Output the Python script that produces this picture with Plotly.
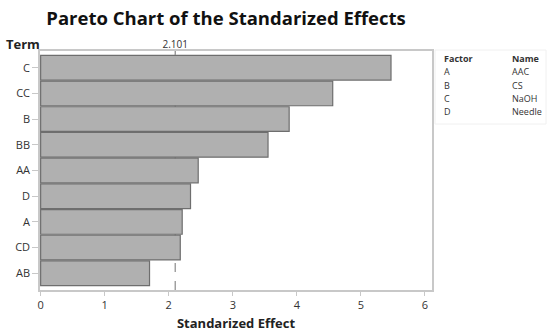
import plotly.graph_objects as go

terms = ["C", "CC", "B", "BB", "AA", "D", "A", "CD", "AB"]
effects = [5.47, 4.56, 3.88, 3.55, 2.46, 2.34, 2.21, 2.18, 1.70]
ref_value = 2.101
x_ticks = [0, 1, 2, 3, 4, 5, 6]
factors = ["A", "B", "C", "D"]
names = ["AAC", "CS", "NaOH", "Needle"]

FONT = "Open Sans"
GRID = "#c8c8c8"
XRANGE = [-0.01, 6.11]

# plot area in pixels: x 40..432, y 51..290
PW, PH = 392, 239
def px(x):
    return (x - 40) / PW
def py(y):
    return (290 - y) / PH

fig = go.Figure()
fig.add_trace(go.Bar(
    x=effects, y=terms, orientation="h",
    marker=dict(color="#b0b0b0", line=dict(color="#6e6e6e", width=1.2)),
    showlegend=False, hoverinfo="x+y",
))
fig.add_trace(go.Scatter(x=[ref_value], y=[terms[0]], xaxis="x2", mode="markers",
                         marker=dict(opacity=0), showlegend=False, hoverinfo="skip"))

fig.add_shape(type="line", x0=ref_value, x1=ref_value, y0=0, y1=1, yref="paper",
              line=dict(color="#8a8a8a", width=1.2, dash="dash"), layer="below")
fig.add_shape(type="rect", xref="paper", yref="paper", x0=px(435), x1=px(546), y0=py(124), y1=py(50),
              line=dict(color="#f0f0f0", width=1), fillcolor="rgba(0,0,0,0)")

fig.update_layout(
    width=550, height=333,
    margin=dict(l=40, r=118, t=51, b=43, autoexpand=False),
    paper_bgcolor="white", plot_bgcolor="white",
    bargap=0.04,
    font=dict(family=FONT, color="#222222"),
    title=dict(text="<b>Pareto Chart of the Standarized Effects</b>", x=0.411, xanchor="center",
               y=0.945, yanchor="middle", font=dict(size=18.5, family=FONT, color="#111111")),
    xaxis=dict(range=XRANGE, tickvals=x_ticks, showgrid=False, zeroline=False,
               ticks="outside", ticklen=4, tickcolor=GRID, tickfont=dict(size=11, color="#333333"),
               showline=True, linecolor=GRID, linewidth=1.5, mirror=True, automargin=False,
               title=dict(text="<b>Standarized Effect</b>", font=dict(size=13, color="#222222"), standoff=8)),
    xaxis2=dict(overlaying="x", side="top", range=XRANGE, tickvals=[ref_value],
                ticktext=["2.101"], ticks="inside", ticklen=4, tickcolor="#999999", automargin=False,
                tickfont=dict(size=10, color="#333333"), showgrid=False, zeroline=False, showline=False),
    yaxis=dict(categoryorder="array", categoryarray=terms, autorange=False, range=[8.65, -0.65],
               ticks="outside", ticklen=6, tickcolor=GRID, tickfont=dict(size=11, color="#333333"),
               automargin=False,
               showgrid=False, zeroline=False, showline=True, linecolor=GRID, linewidth=1.5, mirror=True),
)

fig.add_annotation(text="<b>Term</b>", xref="paper", yref="paper", x=px(4), y=py(44),
                   xanchor="left", yanchor="middle", showarrow=False,
                   font=dict(size=13, family=FONT, color="#222222"))

fig.add_annotation(text="<b>Factor</b>", xref="paper", yref="paper", x=px(442), y=py(59),
                   xanchor="left", yanchor="middle", showarrow=False,
                   font=dict(size=9, family=FONT, color="#333333"))
fig.add_annotation(text="<b>Name</b>", xref="paper", yref="paper", x=px(510), y=py(59),
                   xanchor="left", yanchor="middle", showarrow=False,
                   font=dict(size=9, family=FONT, color="#333333"))
for i, (f, n) in enumerate(zip(factors, names)):
    yy = py(72 + i * 13)
    fig.add_annotation(text=f, xref="paper", yref="paper", x=px(442), y=yy,
                       xanchor="left", yanchor="middle", showarrow=False,
                       font=dict(size=9, family=FONT, color="#333333"))
    fig.add_annotation(text=n, xref="paper", yref="paper", x=px(510), y=yy,
                       xanchor="left", yanchor="middle", showarrow=False,
                       font=dict(size=9, family=FONT, color="#333333"))

fig.write_html("out.html", config={"displayModeBar": False},
               post_script="document.body.style.margin='0';document.body.style.overflow='hidden';")
